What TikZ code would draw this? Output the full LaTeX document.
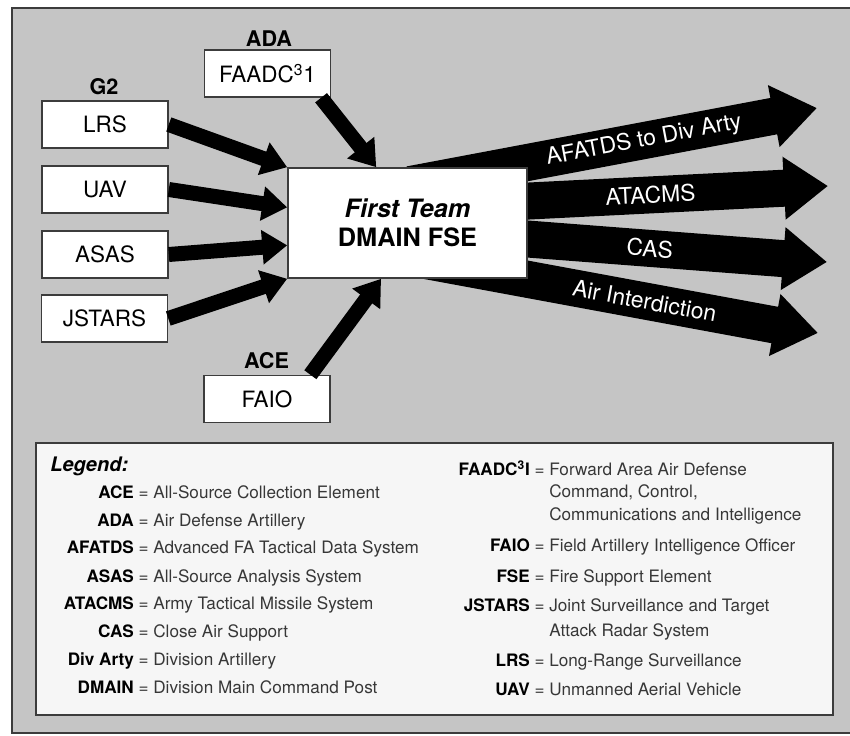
\documentclass[tikz,border=0pt]{standalone}
\usepackage{fontspec}
\setmainfont{TeX Gyre Heros}
\usetikzlibrary{arrows.meta,calc}

\definecolor{panelgray}{RGB}{197,197,197}
\definecolor{framegray}{RGB}{60,60,60}
\definecolor{legendwhite}{RGB}{246,246,246}
\definecolor{desctext}{RGB}{55,55,55}

\newcommand{\legkey}[1]{\llap{\textcolor{black}{\bfseries #1} = }}

\begin{document}
\begin{tikzpicture}[x=0.02cm,y=-0.02cm,
	srcbox/.style={draw=framegray, line width=0.9pt, fill=white, minimum width=2.52cm, minimum height=0.94cm, inner sep=0pt, font=\fontsize{12.8}{15}\selectfont},
	grouplbl/.style={font=\fontsize{12.3}{14}\selectfont\bfseries},
	feed/.style={line width=0.3cm, -{Triangle[width=0.66cm,length=0.5cm]}},
	fanout/.style={line width=0.74cm, -{Triangle[width=1.2cm,length=0.88cm]}},
	bandtext/.style={text=white, font=\fontsize{13}{15}\selectfont, sloped, pos=0.575},
	entry/.style={anchor=base west, inner sep=0pt, text=desctext, font=\fontsize{9.75}{11}\selectfont}]

	\fill[white] (0,0) rectangle (850,736);
	\useasboundingbox (0,0) rectangle (850,736);
	\fill[panelgray] (12,8) rectangle (850,733);
	\draw[framegray, line width=1.2pt] (850,8) -- (12,8) -- (12,733) -- (850,733);

	\coordinate (hub) at (407.5,223);
	\coordinate (ta) at (817,108);
	\coordinate (tb) at (828,186);
	\coordinate (tc) at (827,262);
	\coordinate (td) at (818,333);

	\draw[fanout] ($(hub)+(2.5,-38.4)$) -- (ta) node[bandtext] (lbla) {AFATDS to Div Arty};
	\draw[fanout] ($(hub)+(2.5,-16)$) -- (tb) node[bandtext] (lblb) {ATACMS};
	\draw[fanout] ($(hub)+(2.5,7)$) -- (tc) node[bandtext] (lblc) {CAS};
	\draw[fanout] ($(hub)+(2.5,34.6)$) -- (td) node[bandtext] (lbld) {Air Interdiction};

	\node[srcbox, minimum width=4.78cm, minimum height=2.2cm, align=center, font=\fontsize{14.4}{16.4}\selectfont\bfseries] (fse) at (hub) {\textit{First Team}\\DMAIN FSE};

	\node[srcbox] (faadc) at (267.5,73.5) {FAADC\textsuperscript{3}1};
	\node[srcbox] (lrs) at (105,124.5) {LRS};
	\node[srcbox] (uav) at (105,189.5) {UAV};
	\node[srcbox] (asas) at (105,254.5) {ASAS};
	\node[srcbox] (jstars) at (104.5,318.5) {JSTARS};
	\node[srcbox] (faio) at (267,399) {FAIO};

	\node[grouplbl] (g2) at (104,87) {G2};
	\node[grouplbl] (ada) at (269,38.5) {ADA};
	\node[grouplbl] (ace) at (266.5,360.5) {ACE};

	\draw[feed] (lrs.east) -- (fse.north west);
	\draw[feed] (uav.east) -- ($(fse.north west)!0.36!(fse.south west)$);
	\draw[feed] (asas.east) -- ($(fse.north west)!0.70!(fse.south west)$);
	\draw[feed] (jstars.east) -- (fse.south west);
	\draw[feed] ($(faadc.south west)!0.92!(faadc.south east)$) -- ($(fse.north west)!0.37!(fse.north east)$);
	\draw[feed] ($(faio.north west)!0.84!(faio.north east)$) -- ($(fse.south west)!0.39!(fse.south east)$);

	\draw[framegray, fill=legendwhite, line width=0.8pt] (36,443) rectangle (833,715);
	\node[anchor=base west, inner sep=0pt, font=\fontsize{11.4}{13}\selectfont\bfseries\itshape] (legtitle) at (50,472) {Legend:};

	\node[entry] (eace) at (153,499) {\legkey{ACE}All-Source Collection Element};
	\node[entry] (eada) at (153,527) {\legkey{ADA}Air Defense Artillery};
	\node[entry] (eafatds) at (153,554) {\legkey{AFATDS}Advanced FA Tactical Data System};
	\node[entry] (easas) at (153,583) {\legkey{ASAS}All-Source Analysis System};
	\node[entry] (eatacms) at (153,610) {\legkey{ATACMS}Army Tactical Missile System};
	\node[entry] (ecas) at (153,638) {\legkey{CAS}Close Air Support};
	\node[entry] (edivarty) at (153,666) {\legkey{Div Arty}Division Artillery};
	\node[entry] (edmain) at (153,694) {\legkey{DMAIN}Division Main Command Post};

	\node[entry] (efaadc) at (549,476) {\legkey{FAADC\textsuperscript{3}I}Forward Area Air Defense};
	\node[entry] (efaadcb) at (549,498) {Command, Control,};
	\node[entry] (efaadcc) at (549,521) {Communications and Intelligence};
	\node[entry] (efaio) at (549,552) {\legkey{FAIO}Field Artillery Intelligence Officer};
	\node[entry] (efse) at (549,583) {\legkey{FSE}Fire Support Element};
	\node[entry] (ejstars) at (549,612) {\legkey{JSTARS}Joint Surveillance and Target};
	\node[entry] (ejstarsb) at (549,637) {Attack Radar System};
	\node[entry] (elrs) at (549,667) {\legkey{LRS}Long-Range Surveillance};
	\node[entry] (euav) at (549,696) {\legkey{UAV}Unmanned Aerial Vehicle};

\end{tikzpicture}
\end{document}
